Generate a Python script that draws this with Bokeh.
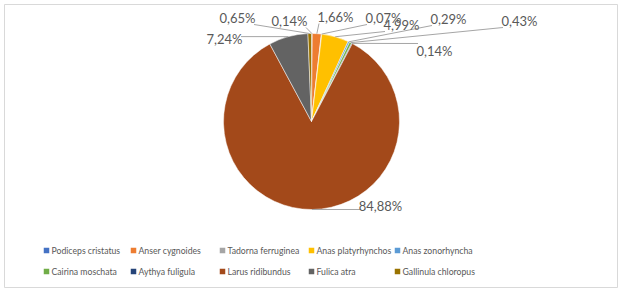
import numpy as np
from bokeh.plotting import figure
from bokeh.models import Range1d
from bokeh.embed import file_html
from bokeh.resources import INLINE
from bokeh.core.properties import value

# ---- data ----
species = ["Podiceps cristatus", "Anser cygnoides", "Tadorna ferruginea",
           "Anas platyrhynchos", "Anas zonorhyncha", "Cairina moschata",
           "Aythya fuligula", "Larus ridibundus", "Fulica atra", "Gallinula chloropus"]
percents = [0.14, 1.66, 0.07, 4.99, 0.29, 0.43, 0.14, 84.88, 7.24, 0.65]
pct_labels = ["0,14%", "1,66%", "0,07%", "4,99%", "0,29%", "0,43%", "0,14%",
              "84,88%", "7,24%", "0,65%"]
colors = ["#4472C4", "#ED7D31", "#A5A5A5", "#FFC000", "#5B9BD5", "#70AD47",
          "#264478", "#A3491A", "#636363", "#997300"]

# ---- layout ----
W, H = 623, 293
CX, CY, R = 311, 121, 88          # pixel coords (y down)
label_pos = [(289, 20), (335, 16), (383, 17), (401, 24), (448, 18), (519, 20),
             (434, 50), (380, 205), (224, 38), (237, 17)]
leg_cols = [46, 133, 222, 311, 397]
leg_rows = [250, 271]
FONT = "Lato"
TXT = "#595959"

def fy(y):
    return H - y

p = figure(width=W, height=H, x_range=Range1d(0, W), y_range=Range1d(0, H),
           output_backend="svg", toolbar_location=None,
           x_axis_location=None, y_axis_location=None, min_border=0,
           background_fill_color="white", border_fill_color="white")
p.grid.visible = False
p.outline_line_color = None

# chart border
p.quad(left=4, right=617, top=fy(4), bottom=fy(287), fill_color=None,
       line_color="#D9D9D9", line_width=1)

vals = np.array(percents, dtype=float)
frac = vals / vals.sum()
cum = np.concatenate([[0], np.cumsum(frac)])
start = np.pi / 2 - 2 * np.pi * cum[:-1]
end = np.pi / 2 - 2 * np.pi * cum[1:]

p.wedge(x=[CX] * len(vals), y=[fy(CY)] * len(vals), radius=R,
        start_angle=list(start), end_angle=list(end), direction="clock",
        fill_color=colors, line_color="white", line_width=0.5)

# leader lines
mid = (start + end) / 2
xs, ys = [], []
for i, (lx, ly) in enumerate(label_pos):
    ex = CX + R * np.cos(mid[i])
    ey = CY - R * np.sin(mid[i])
    w = len(pct_labels[i]) * 6.6
    h = 14
    bx = min(max(ex, lx - w / 2), lx + w / 2)
    by = min(max(ey, ly - h / 2), ly + h / 2)
    if np.hypot(bx - ex, by - ey) > 6:
        xs.append([bx, ex])
        ys.append([fy(by), fy(ey)])
p.multi_line(xs=xs, ys=ys, line_color="#A6A6A6", line_width=1)

p.text(x=[q[0] for q in label_pos], y=[fy(q[1]) for q in label_pos], text=pct_labels,
       text_align="center", text_baseline="middle", text_font=value(FONT),
       text_font_size="13px", text_color=TXT)

# legend
lx, ly = [], []
for i in range(len(species)):
    lx.append(leg_cols[i % 5])
    ly.append(fy(leg_rows[i // 5]))
p.scatter(x=lx, y=ly, marker="square", size=5.5, fill_color=colors, line_color=None)
p.text(x=[v + 5 for v in lx], y=ly, text=species, text_align="left",
       text_baseline="middle", text_font=value(FONT), text_font_size="8.7px",
       text_color=TXT)

open("out.html", "w").write(file_html(p, INLINE))
